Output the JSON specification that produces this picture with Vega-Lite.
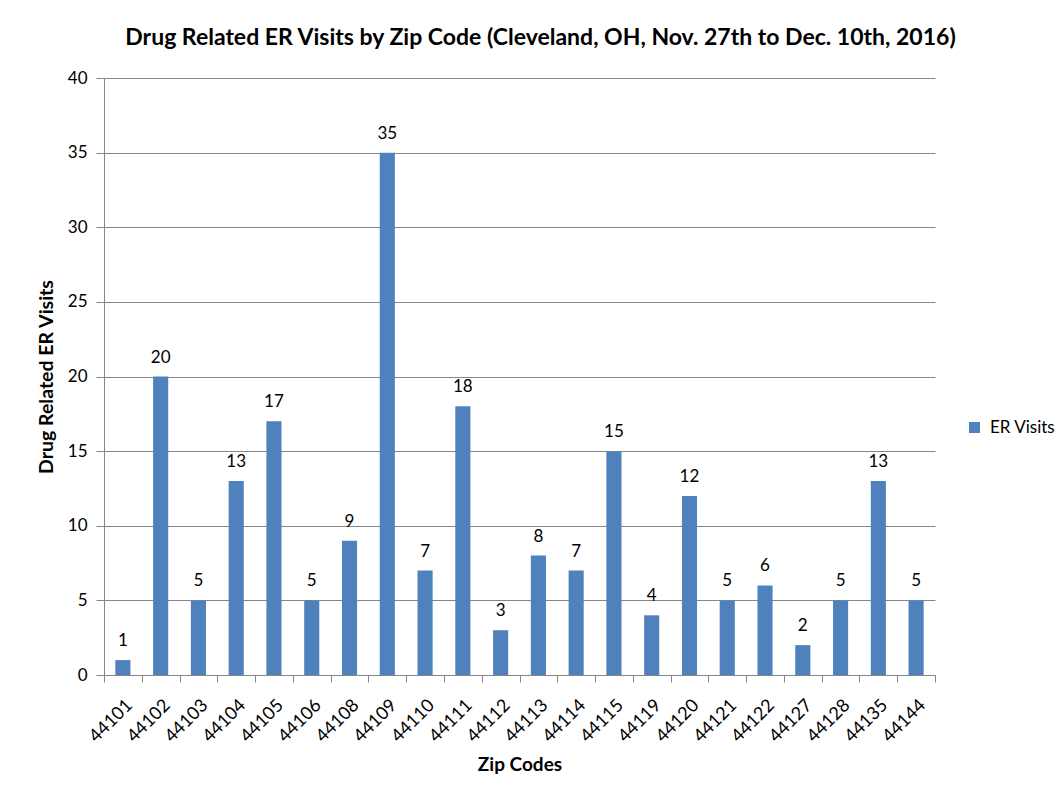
{
  "$schema": "https://vega.github.io/schema/vega-lite/v6.json",
  "width": 831,
  "height": 597,
  "autosize": {"type": "none"},
  "padding": {"left": 104, "top": 78, "right": 128, "bottom": 123},
  "background": "white",
  "config": {
    "font": "Lato",
    "view": {"stroke": null},
    "axis": {"labelFont": "Lato", "titleFont": "Lato", "labelColor": "#000000", "titleColor": "#000000"}
  },
  "title": {
    "text": "Drug Related ER Visits by Zip Code (Cleveland, OH, Nov. 27th to Dec. 10th, 2016)",
    "font": "Lato",
    "fontSize": 23,
    "fontWeight": "bold",
    "color": "#000000",
    "anchor": "middle",
    "dx": 21,
    "offset": 19
  },
  "data": {
    "values": [
      {"zip": "44101", "visits": 1, "series": "ER Visits"},
      {"zip": "44102", "visits": 20, "series": "ER Visits"},
      {"zip": "44103", "visits": 5, "series": "ER Visits"},
      {"zip": "44104", "visits": 13, "series": "ER Visits"},
      {"zip": "44105", "visits": 17, "series": "ER Visits"},
      {"zip": "44106", "visits": 5, "series": "ER Visits"},
      {"zip": "44108", "visits": 9, "series": "ER Visits"},
      {"zip": "44109", "visits": 35, "series": "ER Visits"},
      {"zip": "44110", "visits": 7, "series": "ER Visits"},
      {"zip": "44111", "visits": 18, "series": "ER Visits"},
      {"zip": "44112", "visits": 3, "series": "ER Visits"},
      {"zip": "44113", "visits": 8, "series": "ER Visits"},
      {"zip": "44114", "visits": 7, "series": "ER Visits"},
      {"zip": "44115", "visits": 15, "series": "ER Visits"},
      {"zip": "44119", "visits": 4, "series": "ER Visits"},
      {"zip": "44120", "visits": 12, "series": "ER Visits"},
      {"zip": "44121", "visits": 5, "series": "ER Visits"},
      {"zip": "44122", "visits": 6, "series": "ER Visits"},
      {"zip": "44127", "visits": 2, "series": "ER Visits"},
      {"zip": "44128", "visits": 5, "series": "ER Visits"},
      {"zip": "44135", "visits": 13, "series": "ER Visits"},
      {"zip": "44144", "visits": 5, "series": "ER Visits"}
    ]
  },
  "encoding": {
    "x": {
      "field": "zip",
      "type": "nominal",
      "sort": null,
      "scale": {"paddingInner": 0, "paddingOuter": 0},
      "axis": {
        "title": "Zip Codes",
        "titleFontSize": 19,
        "titleFontWeight": "bold",
        "titlePadding": 10,
        "labelAngle": -45,
        "labelFontSize": 18,
        "labelPadding": 14,
        "tickBand": "extent",
        "tickSize": 7,
        "tickColor": "#868686",
        "domainColor": "#868686",
        "grid": false
      }
    },
    "y": {
      "field": "visits",
      "type": "quantitative",
      "scale": {"domain": [0, 40], "nice": false},
      "axis": {
        "title": "Drug Related ER Visits",
        "titleFontSize": 19.5,
        "titleFontWeight": "bold",
        "titlePadding": 11,
        "values": [0, 5, 10, 15, 20, 25, 30, 35, 40],
        "labelFontSize": 17,
        "labelPadding": 9,
        "tickSize": 8,
        "tickColor": "#868686",
        "domainColor": "#868686",
        "gridColor": "#868686",
        "gridOpacity": 1
      }
    }
  },
  "layer": [
    {
      "mark": {"type": "bar", "width": {"band": 0.4}},
      "encoding": {
        "color": {
          "field": "series",
          "type": "nominal",
          "scale": {"range": ["#4F81BD"]},
          "legend": {
            "title": null,
            "orient": "none",
            "legendX": 862,
            "legendY": 341,
            "symbolType": "square",
            "symbolSize": 121,
            "symbolStrokeWidth": 0,
            "labelFontSize": 17,
            "labelFont": "Lato",
            "labelColor": "#000000",
            "labelOffset": 7,
            "padding": 0
          }
        }
      }
    },
    {
      "mark": {"type": "text", "baseline": "bottom", "dy": -10, "fontSize": 17, "font": "Lato", "color": "#000000"},
      "encoding": {"text": {"field": "visits", "type": "quantitative"}}
    }
  ]
}
